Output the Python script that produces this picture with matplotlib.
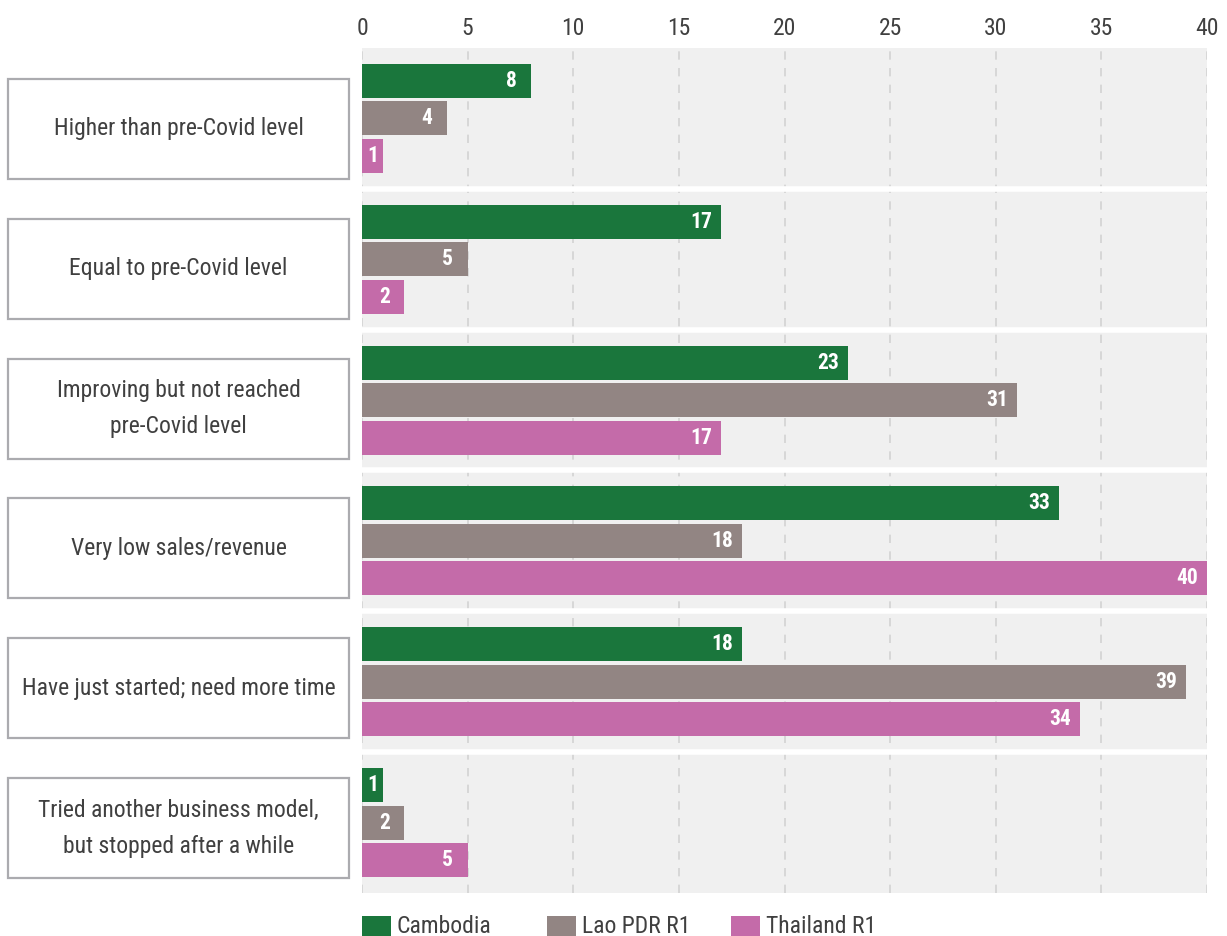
import numpy as np
import matplotlib
matplotlib.use("Agg")
import matplotlib.pyplot as plt
from matplotlib.patches import Rectangle
from matplotlib.transforms import blended_transform_factory

# survey answers, top to bottom
categories = ["Higher than pre-Covid level",
              "Equal to pre-Covid level",
              "Improving but not reached\npre-Covid level",
              "Very low sales/revenue",
              "Have just started; need more time",
              "Tried another business model,\nbut stopped after a while"]
series = ["Cambodia", "Lao PDR R1", "Thailand R1"]
cambodia = [8, 17, 23, 33, 18, 1]
lao = [4, 5, 31, 18, 39, 2]
thailand = [1, 2, 17, 40, 34, 5]
xticks = [0, 5, 10, 15, 20, 25, 30, 35, 40]

colors = ["#1a763c", "#928583", "#c46ba9"]
text_col = "#404040"

plt.rcParams['font.family'] = ['Roboto Condensed', 'Roboto', 'DejaVu Sans']

W, H = 1227, 936
fig = plt.figure(figsize=(W / 100, H / 100), dpi=100)
ax = fig.add_axes([362 / W, 1 - 893 / H, (1207 - 362) / W, (893 - 48) / H])
ax.set_facecolor("#f0f0f0")
for s in ax.spines.values():
    s.set_visible(False)

n = len(categories)
ax.set_xlim(0, 40)
ax.set_ylim(n, 0)
ax.set_yticks([])
ax.xaxis.tick_top()
ax.set_xticks(xticks)
ax.tick_params(axis='x', length=0, pad=6, labelsize=17, labelcolor=text_col)
ax.grid(axis='x', color="#d2d2d2", linestyle=(0, (5, 5)), linewidth=1.2, zorder=0)
ax.set_axisbelow(True)

# white gaps between the groups
for k in range(1, n):
    ax.axhline(k, color="white", lw=4, zorder=1)

px_per_unit = (1207 - 362) / 40
offset = 0.266
bar_h = 0.241
centers = np.arange(n) + 0.5
for j, vals in enumerate([cambodia, lao, thailand]):
    y = centers + (j - 1) * offset
    ax.barh(y, vals, height=bar_h, color=colors[j], zorder=2)
    for yy, v in zip(y, vals):
        shift = min(20, v * px_per_unit / 2) * 0.72
        ax.annotate(str(v), xy=(v, yy), xytext=(-shift, 0),
                    textcoords='offset points', ha='center', va='center',
                    color='white', fontweight='bold', fontsize=15.5, zorder=3)

# boxed category labels on the left
trans = blended_transform_factory(fig.transFigure, ax.transData)
box_h = 100 / ((893 - 48) / n)
for i, lab in enumerate(categories):
    yc = 0.575 + 0.9928 * i
    ax.add_patch(Rectangle((8 / W, yc - box_h / 2), (349 - 8) / W, box_h,
                           transform=trans, facecolor='white',
                           edgecolor="#ababaf", lw=1.6, clip_on=False))
    ax.text(178.5 / W, yc, lab, transform=trans, ha='center', va='center',
            multialignment='center', fontsize=17, color=text_col,
            linespacing=1.72, clip_on=False)

# legend along the bottom edge
for j, name in enumerate(series):
    x0 = 362 + 184.5 * j
    fig.patches.append(Rectangle((x0 / W, 1 - 945 / H), 29 / W, 29 / H,
                                 transform=fig.transFigure, facecolor=colors[j],
                                 edgecolor='none'))
    fig.text((x0 + 35) / W, 1 - 933 / H, name, ha='left', va='baseline',
             fontsize=17, color=text_col)

fig.savefig("out.png", dpi=100)
